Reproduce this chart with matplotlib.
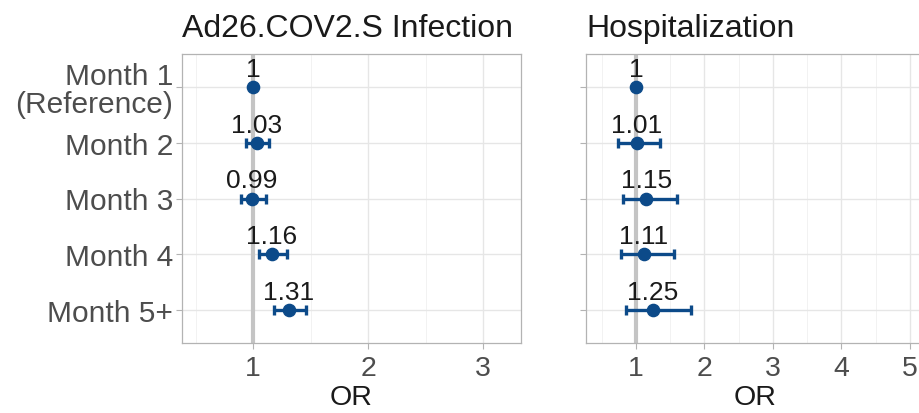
import matplotlib
matplotlib.use("Agg")
import matplotlib.pyplot as plt

plt.rcParams['font.family'] = ['Liberation Sans', 'DejaVu Sans']

categories = ["Month 1\n(Reference)", "Month 2", "Month 3", "Month 4", "Month 5+"]

inf_or = [1.00, 1.03, 0.99, 1.16, 1.31]
inf_lo = [1.00, 0.94, 0.89, 1.05, 1.18]
inf_hi = [1.00, 1.14, 1.11, 1.29, 1.46]
inf_labels = ["1", "1.03", "0.99", "1.16", "1.31"]

hosp_or = [1.00, 1.01, 1.15, 1.11, 1.25]
hosp_lo = [1.00, 0.74, 0.81, 0.78, 0.85]
hosp_hi = [1.00, 1.35, 1.60, 1.56, 1.80]
hosp_labels = ["1", "1.01", "1.15", "1.11", "1.25"]

titles = ["Ad26.COV2.S Infection", "Hospitalization"]
xticks_left = [1, 2, 3]
xticks_right = [1, 2, 3, 4, 5]

W, H = 920, 414
fig = plt.figure(figsize=(W / 100, H / 100), dpi=100)

def box(l, t, r, b):
    return [l / W, 1 - b / H, (r - l) / W, (b - t) / H]

ax1 = fig.add_axes(box(182, 55, 521, 344))
ax2 = fig.add_axes(box(586, 55, 925, 344))

pcol = '#0C4A89'
ypos = list(range(len(categories), 0, -1))

def draw(ax, ors, lo, hi, labs, xt, xlim, title, show_y):
    ax.set_xlim(*xlim)
    ax.set_ylim(0.4, len(categories) + 0.6)
    ax.set_facecolor('white')
    for x in xt:
        ax.axvline(x, color='#E6E6E6', lw=1.0, zorder=0)
    minors = [x + 0.5 for x in range(0, max(xt) + 1)]
    for x in minors:
        if xlim[0] < x < xlim[1]:
            ax.axvline(x, color='#F2F2F2', lw=0.7, zorder=0)
    for y in ypos:
        ax.axhline(y, color='#E6E6E6', lw=1.0, zorder=0)
    ax.axvline(1, color='#C4C4C4', lw=3, zorder=1)
    for y, o, l, h, t in zip(ypos, ors, lo, hi, labs):
        if h > l:
            ax.errorbar([o], [y], xerr=[[o - l], [h - o]], fmt='none',
                        ecolor=pcol, elinewidth=2.4, capsize=3.5, capthick=2.4, zorder=3)
        ax.plot([o], [y], 'o', color=pcol, ms=8.8, zorder=4)
        ax.text(o, y + 0.2, t, ha='center', va='baseline', fontsize=19, color='#1A1A1A', zorder=5)
    ax.set_xticks(xt)
    ax.set_xticklabels([str(x) for x in xt])
    ax.set_yticks(ypos)
    if show_y:
        ax.set_yticklabels(categories, linespacing=0.98)
    else:
        ax.set_yticklabels([])
    ax.tick_params(axis='y', colors='#B3B3B3', labelcolor='#4D4D4D', labelsize=21.5,
                   length=4, width=0.8, pad=2.5)
    ax.tick_params(axis='x', colors='#B3B3B3', labelcolor='#4D4D4D', labelsize=20.5,
                   length=4, width=0.8, pad=5)
    for s in ax.spines.values():
        s.set_color('#B3B3B3')
        s.set_linewidth(0.9)
    ax.set_xlabel("OR", fontsize=20.5, color='#1A1A1A', labelpad=2)
    ax.set_title(title, loc='left', fontsize=23, color='#1A1A1A', pad=13)

draw(ax1, inf_or, inf_lo, inf_hi, inf_labels, xticks_left, (0.38, 3.33), titles[0], True)
draw(ax2, hosp_or, hosp_lo, hosp_hi, hosp_labels, xticks_right, (0.27, 5.22), titles[1], False)

fig.savefig("out.png", dpi=100)
